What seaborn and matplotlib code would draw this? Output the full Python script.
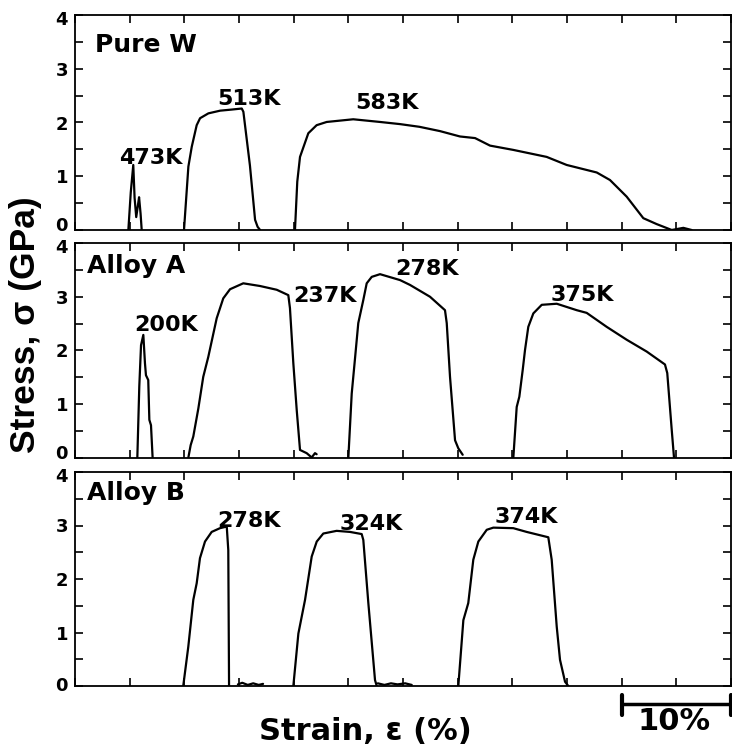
import numpy as np
import pandas as pd
import matplotlib
matplotlib.use("Agg")
import matplotlib.pyplot as plt
import matplotlib.transforms as mtransforms
import seaborn as sns

# ---------------- data (strain %, stress GPa) ----------------
# Pure W
pw_473_x = [4.88, 5.1, 5.33, 5.45, 5.6, 5.75, 5.86, 6.0, 6.1]
pw_473_y = [0.0, 0.7, 1.21, 0.6, 0.24, 0.45, 0.61, 0.3, 0.0]
pw_513_x = [9.97, 10.37, 10.68, 11.13, 11.44, 12.2, 13.27, 14.3, 15.25, 15.4, 16.0, 16.47, 16.7, 16.93]
pw_513_y = [0.0, 1.18, 1.55, 1.95, 2.08, 2.17, 2.22, 2.24, 2.26, 2.2, 1.2, 0.19, 0.06, 0.0]
pw_583_x = [20.12, 20.33, 20.58, 21.34, 22.1, 23.02, 25.45, 27.9, 29.73, 31.5, 33.38, 35.21,
            36.59, 37.96, 40.09, 43.14, 44.97, 47.72, 48.93, 50.46, 51.98, 53.2, 54.58, 55.64, 56.4]
pw_583_y = [0.0, 0.9, 1.36, 1.8, 1.95, 2.01, 2.06, 2.01, 1.97, 1.92, 1.84, 1.74,
            1.71, 1.57, 1.49, 1.36, 1.21, 1.07, 0.93, 0.62, 0.22, 0.11, 0.0, 0.04, 0.0]

# Alloy A
aa_200_x = [5.7, 5.88, 6.04, 6.25, 6.4, 6.49, 6.7, 6.8, 6.95, 7.1]
aa_200_y = [0.0, 1.33, 2.1, 2.29, 1.76, 1.54, 1.45, 0.71, 0.61, 0.0]
aa_237_x = [10.36, 10.58, 10.82, 11.28, 11.73, 12.19, 12.96, 13.56, 14.18, 15.39, 16.92,
            18.45, 19.51, 19.66, 19.97, 20.28, 20.58, 21.19, 21.65, 21.95, 22.1]
aa_237_y = [0.0, 0.24, 0.4, 0.92, 1.51, 1.88, 2.6, 2.97, 3.14, 3.25, 3.2,
            3.13, 3.03, 2.79, 1.76, 0.89, 0.15, 0.09, 0.01, 0.09, 0.07]
aa_278_x = [25.0, 25.31, 25.61, 25.91, 26.37, 26.68, 27.14, 27.9, 29.73, 30.64, 32.47,
            33.84, 34.0, 34.3, 34.76, 35.06, 35.46]
aa_278_y = [0.0, 1.2, 1.85, 2.51, 2.94, 3.25, 3.37, 3.42, 3.31, 3.22, 3.0,
            2.75, 2.51, 1.51, 0.33, 0.18, 0.06]
aa_375_x = [40.09, 40.4, 40.64, 40.95, 41.16, 41.46, 41.92, 42.69, 44.06, 45.89, 46.8,
            48.63, 50.46, 52.29, 53.96, 54.17, 54.58, 54.79]
aa_375_y = [0.0, 0.95, 1.14, 1.64, 2.01, 2.44, 2.69, 2.85, 2.87, 2.75, 2.7,
            2.44, 2.2, 1.98, 1.74, 1.58, 0.52, 0.0]

# Alloy B
ab_278_x = [9.9, 10.36, 10.82, 11.13, 11.43, 11.89, 12.5, 13.26, 13.88, 14.02, 14.09]
ab_278_y = [0.0, 0.73, 1.61, 1.92, 2.39, 2.7, 2.88, 2.95, 2.98, 2.54, 0.0]
ab_278t_x = [14.9, 15.3, 15.8, 16.3, 16.8, 17.2]
ab_278t_y = [0.03, 0.06, 0.02, 0.05, 0.02, 0.04]
ab_324_x = [19.97, 20.43, 21.04, 21.65, 22.11, 22.71, 23.93, 25.15, 26.22, 26.37, 26.83, 27.44, 27.6]
ab_324_y = [0.0, 0.98, 1.61, 2.42, 2.7, 2.85, 2.9, 2.88, 2.84, 2.73, 1.55, 0.11, 0.0]
ab_324t_x = [27.7, 28.3, 28.9, 29.5, 30.2, 30.8]
ab_324t_y = [0.05, 0.02, 0.05, 0.03, 0.05, 0.02]
ab_374_x = [35.06, 35.52, 35.97, 36.43, 36.89, 37.66, 38.26, 40.09, 41.31, 43.29, 43.6,
            44.06, 44.36, 44.82, 45.12]
ab_374_y = [0.0, 1.23, 1.55, 2.36, 2.7, 2.92, 2.96, 2.95, 2.88, 2.78, 2.36,
            1.11, 0.49, 0.08, 0.0]

panel_names = ["Pure W", "Alloy A", "Alloy B"]
curves = {
    "Pure W": [("473K", pw_473_x, pw_473_y), ("513K", pw_513_x, pw_513_y), ("583K", pw_583_x, pw_583_y)],
    "Alloy A": [("200K", aa_200_x, aa_200_y), ("237K", aa_237_x, aa_237_y),
                ("278K", aa_278_x, aa_278_y), ("375K", aa_375_x, aa_375_y)],
    "Alloy B": [("278K", ab_278_x, ab_278_y), ("278K-tail", ab_278t_x, ab_278t_y),
                ("324K", ab_324_x, ab_324_y), ("324K-tail", ab_324t_x, ab_324t_y),
                ("374K", ab_374_x, ab_374_y)],
}
# temperature labels: (text, strain, stress baseline)
labels = {
    "Pure W": [("473K", 6.93, 1.22), ("513K", 15.93, 2.33), ("583K", 28.5, 2.26)],
    "Alloy A": [("200K", 8.35, 2.36), ("237K", 22.87, 2.91), ("278K", 32.17, 3.40), ("375K", 46.42, 2.93)],
    "Alloy B": [("278K", 15.93, 2.98), ("324K", 27.06, 2.92), ("374K", 41.23, 3.04)],
}
title_pos = {"Pure W": (0.030, 0.829), "Alloy A": (0.018, 0.859), "Alloy B": (0.018, 0.869)}

rows = []
for p, lst in curves.items():
    for name, xs, ys in lst:
        for xv, yv in zip(xs, ys):
            rows.append({"panel": p, "curve": name, "strain": xv, "stress": yv})
df = pd.DataFrame(rows)

# ---------------- figure ----------------
sns.set_theme(style="white")
WIDE = ["DejaVu Sans"]
NARROW = ["Liberation Sans", "DejaVu Sans"]
plt.rcParams["font.family"] = WIDE
plt.rcParams["font.weight"] = "bold"
for k in ["text.color", "axes.labelcolor", "xtick.color", "ytick.color", "axes.edgecolor"]:
    plt.rcParams[k] = "black"

fig = plt.figure(figsize=(7.32, 7.46), dpi=100)
left, width = 75 / 732, 656 / 732
boxes = [(1 - 230 / 746, 215 / 746), (1 - 458 / 746, 215 / 746), (1 - 686 / 746, 214 / 746)]
zero_shift = [6, 6, 2]   # px upward for the "0" label
axes = []
for i, ((b, h), p) in enumerate(zip(boxes, panel_names)):
    ax = fig.add_axes([left, b, width, h])
    sub = df[df.panel == p]
    sns.lineplot(data=sub, x="strain", y="stress", units="curve", estimator=None,
                 sort=False, color="black", linewidth=1.6, ax=ax, legend=False)
    ax.set_xlim(0, 60)
    ax.set_ylim(0, 4)
    ax.set_xlabel("")
    ax.set_ylabel("")
    ax.set_xticks(np.arange(0, 61, 5))
    ax.set_xticklabels([])
    ax.set_yticks([0, 1, 2, 3, 4])
    ax.set_yticklabels(["0", "1", "2", "3", "4"])
    ax.set_yticks(np.arange(0.5, 4, 1), minor=True)
    ax.tick_params(axis="both", which="both", direction="in", top=True, right=True,
                   bottom=True, left=True, length=6, width=1.2, color="black")
    ax.tick_params(axis="y", which="major", labelsize=13, pad=5)
    ylabs = ax.get_yticklabels()
    for lab in ylabs:
        lab.set_fontweight("bold")
        lab.set_color("black")
    ylabs[0].set_transform(ylabs[0].get_transform() +
                           mtransforms.ScaledTranslation(0, zero_shift[i] / 100, fig.dpi_scale_trans))
    ylabs[-1].set_transform(ylabs[-1].get_transform() +
                            mtransforms.ScaledTranslation(0, -3 / 100, fig.dpi_scale_trans))
    for s in ax.spines.values():
        s.set_color("black")
        s.set_linewidth(1.3)
    tx, ty = title_pos[p]
    ax.text(tx, ty, p, transform=ax.transAxes, fontsize=18, fontweight="bold",
            ha="left", va="baseline", color="black")
    for t, xv, yv in labels[p]:
        ax.text(xv, yv, t, fontsize=16, fontweight="bold", ha="center", va="baseline", color="black")
    axes.append(ax)

# axis labels
fig.text(25 / 732, 1 - 325 / 746, "Stress, σ (GPa)", rotation=90, ha="center", va="center",
         fontsize=25.5, fontweight="bold", family=NARROW, color="black")
fig.text(365 / 732, 1 - 731 / 746, "Strain, ε (%)", ha="center", va="center",
         fontsize=22, fontweight="bold", color="black")

# 10% scale bar below bottom panel
bar_x0, bar_x1 = 50, 60
bar_y, cap_lo, cap_hi = -0.34, -0.54, -0.17
axb = axes[-1]
axb.plot([bar_x0, bar_x1], [bar_y, bar_y], color="black", lw=2.5, clip_on=False)
axb.plot([bar_x0, bar_x0], [cap_lo, cap_hi], color="black", lw=3, clip_on=False)
axb.plot([bar_x1, bar_x1], [cap_lo, cap_hi], color="black", lw=3, clip_on=False)
axb.text(54.8, -0.67, "10%", ha="center", va="center", fontsize=22, fontweight="bold",
         clip_on=False, color="black")

fig.savefig("out.png", dpi=100)
